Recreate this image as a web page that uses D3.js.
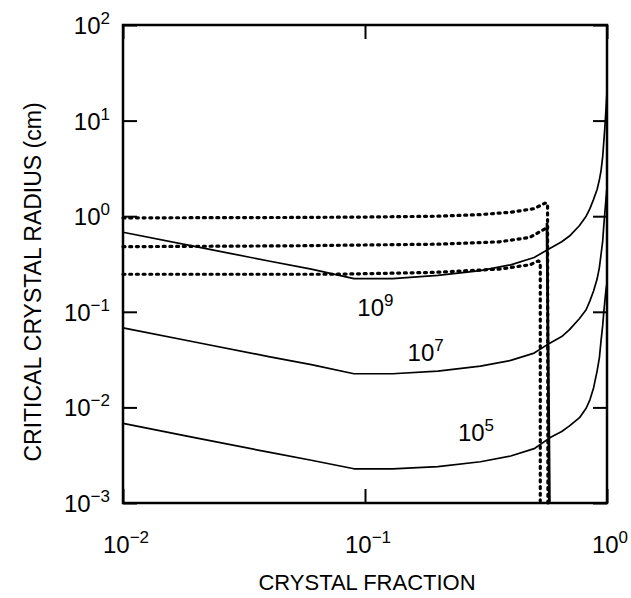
<!DOCTYPE html>
<html>
<head>
<meta charset="utf-8">
<script src="https://cdn.jsdelivr.net/npm/d3@7"></script>
<style>
  body { margin: 0; background: #fff; }
  text { font-family: "Liberation Sans", Arial, sans-serif; fill: #000; }
</style>
</head>
<body>
<div id="chart"></div>
<script>
    // crystal fraction (x) and critical radius in cm (y) for each curve
    const fraction = [0.01, 0.02, 0.04, 0.06, 0.09, 0.13, 0.2, 0.3, 0.4, 0.5, 0.58, 0.65, 0.7, 0.77, 0.82, 0.85, 0.88, 0.91, 0.93, 0.945, 0.96, 0.97, 0.98, 0.99, 1.0]
    const radius1e9 = [0.68, 0.48, 0.34, 0.28, 0.222, 0.222, 0.24, 0.27, 0.31, 0.37, 0.46, 0.54, 0.62, 0.8, 1.0, 1.2, 1.5, 1.9, 2.4, 3.0, 4.2, 6.0, 8.5, 13, 20]
    const radius1e7 = [0.068, 0.048, 0.034, 0.028, 0.0225, 0.0225, 0.024, 0.027, 0.031, 0.037, 0.047, 0.055, 0.065, 0.085, 0.105, 0.13, 0.165, 0.22, 0.29, 0.4, 0.55, 0.8, 1.1, 1.5, 2.0]
    const radius1e5 = [0.0068, 0.0048, 0.0034, 0.0028, 0.00228, 0.00228, 0.0024, 0.0027, 0.0031, 0.0037, 0.0048, 0.0056, 0.0064, 0.0078, 0.0098, 0.012, 0.016, 0.024, 0.033, 0.05, 0.072, 0.1, 0.13, 0.17, 0.2]
    const curveNames = ["9", "7", "5"]

    // dotted curves
    const upperFraction = [0.01, 0.05, 0.1, 0.2, 0.3, 0.4, 0.5, 0.555, 0.568, 0.57]
    const upperRadius = [0.96, 0.97, 0.98, 1.0, 1.04, 1.1, 1.2, 1.37, 1.35, 0.001]
    const middleFraction = [0.01, 0.05, 0.1, 0.2, 0.36, 0.48, 0.555]
    const middleRadius = [0.48, 0.49, 0.5, 0.51, 0.54, 0.6, 0.74]
    const lowerFraction = [0.01, 0.074, 0.19, 0.36, 0.48, 0.52, 0.53, 0.53]
    const lowerRadius = [0.247, 0.247, 0.258, 0.28, 0.31, 0.34, 0.33, 0.00105]

    // solid vertical limit
    const limitFraction = [0.565, 0.578]
    const limitRadius = [0.85, 0.001]

    const xTicks = [0.01, 0.1, 1]
    const xTickExp = ["\u22122", "\u22121", "0"]
    const yTicks = [0.001, 0.01, 0.1, 1, 10, 100]
    const yTickExp = ["\u22123", "\u22122", "\u22121", "0", "1", "2"]

    // where the curve labels sit (data coords)
    const labelFraction = [0.093, 0.15, 0.242]
    const labelRadius = [0.09, 0.0305, 0.0044]

    const w = 631
    const h = 598
    const mLeft = 123, mRight = 607, mTop = 25, mBottom = 503

    const x = d3.scaleLog().domain([0.01, 1]).range([mLeft, mRight])
    const y = d3.scaleLog().domain([0.001, 100]).range([mBottom, mTop])

    const svg = d3.select("#chart")
        .append("svg")
        .attr("width", w)
        .attr("height", h)

    const line = d3.line()
        .x(d => x(d[0]))
        .y(d => y(d[1]))

    // inward ticks on all four sides
    svg.append("g")
        .attr("transform", `translate(0,${mBottom})`)
        .call(d3.axisBottom(x).tickValues(xTicks).tickSize(-14).tickSizeOuter(0).tickFormat(""))
    svg.append("g")
        .attr("transform", `translate(0,${mTop})`)
        .call(d3.axisTop(x).tickValues(xTicks).tickSize(-14).tickSizeOuter(0).tickFormat(""))
    svg.append("g")
        .attr("transform", `translate(${mLeft},0)`)
        .call(d3.axisLeft(y).tickValues(yTicks).tickSize(-14).tickSizeOuter(0).tickFormat(""))
    svg.append("g")
        .attr("transform", `translate(${mRight},0)`)
        .call(d3.axisRight(y).tickValues(yTicks).tickSize(-14).tickSizeOuter(0).tickFormat(""))
    svg.selectAll(".domain").remove()
    svg.selectAll(".tick line").attr("stroke", "#000").attr("stroke-width", 2)

    svg.append("rect")
        .attr("x", mLeft)
        .attr("y", mTop)
        .attr("width", mRight - mLeft)
        .attr("height", mBottom - mTop)
        .attr("fill", "none")
        .attr("stroke", "#000")
        .attr("stroke-width", 2.5)

    // dotted curves
    const dotted = [
        [upperFraction, upperRadius],
        [middleFraction, middleRadius],
        [lowerFraction, lowerRadius]
    ]
    svg.selectAll(".dotted")
        .data(dotted)
        .enter()
        .append("path")
        .attr("class", "dotted")
        .attr("d", d => line(d[0].map((f, i) => [f, d[1][i]])))
        .attr("fill", "none")
        .attr("stroke", "#000")
        .attr("stroke-width", 3.2)
        .attr("stroke-linecap", "round")
        .attr("stroke-dasharray", "2,4.7")

    // solid curves
    const solid = [radius1e9, radius1e7, radius1e5]
    svg.selectAll(".solid")
        .data(solid)
        .enter()
        .append("path")
        .attr("class", "solid")
        .attr("d", d => line(fraction.map((f, i) => [f, d[i]])))
        .attr("fill", "none")
        .attr("stroke", "#000")
        .attr("stroke-width", 1.7)
        .attr("stroke-linejoin", "round")

    svg.append("path")
        .attr("d", line(limitFraction.map((f, i) => [f, limitRadius[i]])))
        .attr("fill", "none")
        .attr("stroke", "#000")
        .attr("stroke-width", 2.8)

    // curve labels
    const lab = svg.selectAll(".curveLabel")
        .data(curveNames)
        .enter()
        .append("text")
        .attr("class", "curveLabel")
        .attr("x", (d, i) => x(labelFraction[i]))
        .attr("y", (d, i) => y(labelRadius[i]))
        .style("font-size", "24px")
    lab.append("tspan").text("10")
    lab.append("tspan").text(d => d).attr("dy", -10).style("font-size", "17px")

    // tick labels
    const xl = svg.selectAll(".xLabel")
        .data(xTicks)
        .enter()
        .append("text")
        .attr("class", "xLabel")
        .attr("x", d => x(d) + 3)
        .attr("y", 553)
        .attr("text-anchor", "middle")
        .style("font-size", "24px")
    xl.append("tspan").text("10")
    xl.append("tspan").text((d, i) => xTickExp[i]).attr("dy", -10).style("font-size", "17px")

    const yl = svg.selectAll(".yLabel")
        .data(yTicks)
        .enter()
        .append("text")
        .attr("class", "yLabel")
        .attr("x", 110)
        .attr("y", d => y(d) + 9)
        .attr("text-anchor", "end")
        .style("font-size", "24px")
    yl.append("tspan").text("10")
    yl.append("tspan").text((d, i) => yTickExp[i]).attr("dy", -10).style("font-size", "17px")

    // axis titles
    svg.append("text")
        .attr("x", (mLeft + mRight) / 2 + 2)
        .attr("y", 590)
        .attr("text-anchor", "middle")
        .style("font-size", "22px")
        .text("CRYSTAL FRACTION")

    svg.append("text")
        .attr("transform", `translate(41,${(mTop + mBottom) / 2 + 18}) rotate(-90)`)
        .attr("text-anchor", "middle")
        .style("font-size", "23px")
        .text("CRITICAL CRYSTAL RADIUS (cm)")
</script>
</body>
</html>
